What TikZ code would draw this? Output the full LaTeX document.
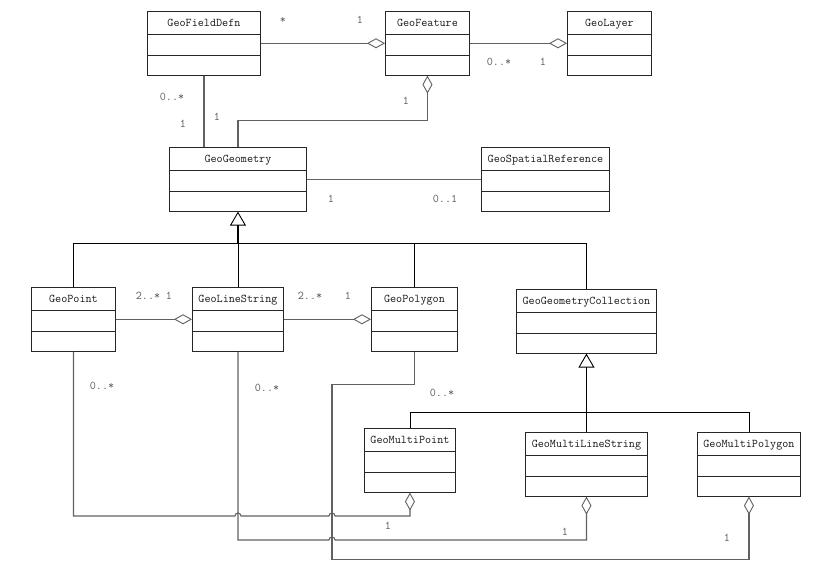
\documentclass[tikz,border=0pt]{standalone}
\usepackage{fontspec}
\usepackage{tikz}
\usetikzlibrary{shapes.multipart, arrows.meta, calc}
\tikzstyle{umlclass} = [rectangle split, rectangle split parts=3, draw=black!85, line width=0.9pt, inner xsep=0pt, inner ysep=0pt, anchor=north west, font=\ttfamily\fontsize{11.8}{13}\selectfont, text=black!90]
\tikzstyle{assoc} = [draw=black!62, line width=1.1pt]
\tikzstyle{agg} = [assoc, -{Diamond[open, length=18pt, width=10pt, line width=0.9pt]}]
\tikzstyle{aggs} = [assoc, {Diamond[open, length=18pt, width=10pt, line width=0.9pt]}-]
\tikzstyle{inherit} = [draw=black, line width=1.8pt, {Triangle[open, length=14pt, width=16pt, line width=0.9pt]}-]
\tikzstyle{tree} = [draw=black, line width=0.9pt]
\tikzstyle{mult} = [font=\ttfamily\fontsize{11.8}{13}\selectfont, text=black!65, inner sep=0pt]
\newcommand{\umlparts}[1]{\rule[-7pt]{0pt}{22pt}#1\nodepart{two}\rule{0pt}{20pt}\nodepart{three}\rule{0pt}{19pt}}

\begin{document}
\begin{tikzpicture}[x=1pt, y=-1pt]
  \useasboundingbox[fill=white] (0,0) rectangle (825,578);

  % classes
  \node[umlclass, minimum width=113pt] (fielddefn) at (147,11) {\umlparts{GeoFieldDefn}};
  \node[umlclass, minimum width=84pt] (feature) at (385,11) {\umlparts{GeoFeature}};
  \node[umlclass, minimum width=84pt] (layer) at (567,11) {\umlparts{GeoLayer}};
  \node[umlclass, minimum width=137pt] (geometry) at (169,147) {\umlparts{GeoGeometry}};
  \node[umlclass, minimum width=128pt] (spatialref) at (481,147) {\umlparts{GeoSpatialReference}};
  \node[umlclass, minimum width=84pt] (point) at (31,287) {\umlparts{GeoPoint}};
  \node[umlclass, minimum width=91pt] (linestring) at (192,287) {\umlparts{GeoLineString}};
  \node[umlclass, minimum width=86pt] (polygon) at (371,287) {\umlparts{GeoPolygon}};
  \node[umlclass, minimum width=140pt] (collection) at (516,289) {\umlparts{GeoGeometryCollection}};
  \node[umlclass, minimum width=91pt] (multipoint) at (364,428) {\umlparts{GeoMultiPoint}};
  \node[umlclass, minimum width=122pt] (multilinestring) at (525,432) {\umlparts{GeoMultiLineString}};
  \node[umlclass, minimum width=103pt] (multipolygon) at (697,432) {\umlparts{GeoMultiPolygon}};

  % associations
  \draw[agg] (fielddefn.east) -- (feature.west);
  \draw[agg] (feature.east) -- (layer.west);
  \draw[aggs] (feature.south) |- (geometry.north |- 0,120.5) -- (geometry.north);
  \draw[assoc] (fielddefn.south) -- (fielddefn.south |- geometry.north);
  \draw[assoc] (geometry.east) -- (spatialref.west);
  \draw[agg] (point.east) -- (linestring.west);
  \draw[agg] (linestring.east) -- (polygon.west);

  % inheritance
  \draw[inherit] (geometry.south) -- ++(0,32) coordinate (gbus);
  \draw[tree] (point.north) |- (gbus) -| (collection.north);
  \draw[tree] (linestring.north) -- (gbus);
  \draw[tree] (polygon.north) -- (polygon.north |- gbus);
  \draw[inherit] (collection.south) -- ++(0,59) coordinate (cbus);
  \draw[tree] (multipoint.north) |- (cbus) -| (multipolygon.north);
  \draw[tree] (multilinestring.north) -- (cbus);

  % multi-geometries
  \coordinate (pgbend) at (332,384.5);
  \draw[aggs] (multipoint.south) -- (multipoint.south |- 0,516)
    -- ($(pgbend |- 0,516)+(3,0)$) arc[start angle=0, end angle=180, radius=3pt]
    -- ($(linestring.south |- 0,516)+(3,0)$) arc[start angle=0, end angle=180, radius=3pt]
    -- (point.south |- 0,516) -- (point.south);
  \draw[aggs] (multilinestring.south) -- (multilinestring.south |- 0,540)
    -- ($(pgbend |- 0,540)+(3,0)$) arc[start angle=0, end angle=180, radius=3pt]
    -- (linestring.south |- 0,540) -- (linestring.south);
  \draw[aggs] (multipolygon.south) |- (pgbend |- 0,559.5) -- (pgbend) -| (polygon.south);

  % Labels
  \node[mult] (m1) at (283,20) {*};
  \node[mult] (m2) at (360,20) {1};
  \node[mult] (m3) at (499,62) {0..*};
  \node[mult] (m4) at (543,62) {1};
  \node[mult] (m5) at (406,101) {1};
  \node[mult] (m6) at (172,97) {0..*};
  \node[mult] (m7) at (183,124) {1};
  \node[mult] (m8) at (217,117) {1};
  \node[mult] (m9) at (331,199) {1};
  \node[mult] (m10) at (445,199) {0..1};
  \node[mult] (m11) at (148,296) {2..*};
  \node[mult] (m12) at (169,296) {1};
  \node[mult] (m13) at (310,296) {2..*};
  \node[mult] (m14) at (348,296) {1};
  \node[mult] (m15) at (102,386) {0..*};
  \node[mult] (m16) at (267,388) {0..*};
  \node[mult] (m17) at (442,393) {0..*};
  \node[mult] (m18) at (388,526) {1};
  \node[mult] (m19) at (565,532) {1};
  \node[mult] (m20) at (727,538) {1};
\end{tikzpicture}
\end{document}
